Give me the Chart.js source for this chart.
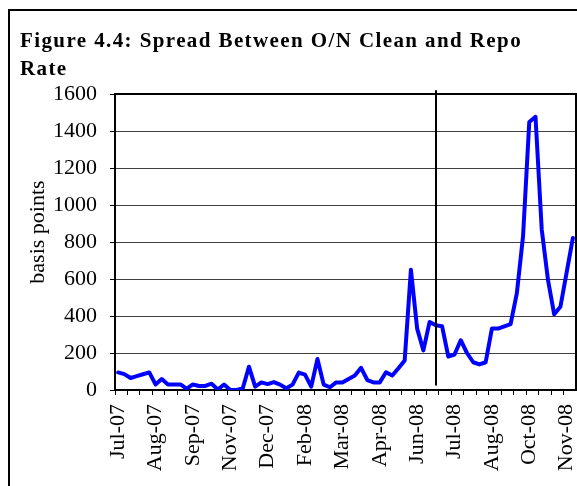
<!DOCTYPE html>
<html><head><meta charset="utf-8">
<script src="https://cdn.jsdelivr.net/npm/chart.js@4/dist/chart.umd.min.js"></script>
<style>
html,body{margin:0;padding:0;background:#fff;overflow:hidden;}
#wrap{position:relative;width:577px;height:486px;}
#frame{position:absolute;left:8px;top:9px;width:600px;height:500px;border:2px solid #000;box-sizing:border-box;pointer-events:none;}
#title{position:absolute;left:20px;top:26px;font:bold 21px "Liberation Serif","Times New Roman",serif;letter-spacing:1.4px;line-height:28px;color:#000;white-space:nowrap;}
canvas{position:absolute;left:0;top:0;}
</style></head><body>
<div id="wrap">
<canvas id="c" width="577" height="486"></canvas>
<div id="frame"></div>
<div id="title">Figure 4.4: Spread Between O/N Clean and Repo<br>Rate</div>
</div>
<script>
// tick labels shown every 6 observations
const tickLabels = ['Jul-07','Aug-07','Sep-07','Nov-07','Dec-07','Feb-08','Mar-08','Apr-08','Jun-08','Jul-08','Aug-08','Oct-08','Nov-08'];
const labelEvery = 6;
// spread between O/N clean and repo rate, basis points (74 observations)
const spreadBp = [
  95, 86, 65, 75, 85, 95, 30, 59, 30, 30,
  30, 7, 30, 22, 22, 34, 3, 30, 0, 0,
  8, 126, 18, 41, 32, 43, 29, 9, 29, 94,
  83, 18, 168, 29, 15, 41, 41, 60, 78, 120,
  54, 41, 41, 96, 78, 118, 160, 650, 332, 214,
  368, 350, 345, 181, 192, 269, 200, 150, 138, 150,
  332, 332, 344, 356, 522, 831, 1449, 1477, 868, 596,
  409, 450, 636, 822
];
const yAxisTitle = 'basis points';
// vertical marker line (observation index, from/to values)
const markerIndex = 51;
const markerFrom = 25;
const markerTo = 1620;

const categories = spreadBp.map((v, i) => (i % labelEvery === 0 ? (tickLabels[i / labelEvery] || '') : ''));
const serif = 'Liberation Serif, Times New Roman, serif';

const plotFrame = {
  id: 'plotFrame',
  beforeDatasetsDraw(chart) {
    const {ctx, chartArea: a} = chart;
    ctx.save();
    ctx.strokeStyle = '#000';
    ctx.lineWidth = 2;
    ctx.beginPath();
    ctx.moveTo(a.left, a.top);
    ctx.lineTo(a.right, a.top);
    ctx.lineTo(a.right, a.bottom);
    ctx.stroke();
    ctx.restore();
  },
  afterDatasetsDraw(chart) {
    const {ctx, chartArea: a, scales: {x, y}} = chart;
    const px = Math.round(x.getPixelForValue(markerIndex));
    ctx.save();
    ctx.strokeStyle = '#000';
    ctx.lineWidth = 2;
    ctx.beginPath();
    ctx.moveTo(px, y.getPixelForValue(markerTo));
    ctx.lineTo(px, y.getPixelForValue(markerFrom));
    ctx.stroke();
    // y axis title
    ctx.translate(38, (a.top + a.bottom) / 2 - 10);
    ctx.rotate(-Math.PI / 2);
    ctx.fillStyle = '#000';
    ctx.font = '22px ' + serif;
    ctx.textAlign = 'center';
    ctx.textBaseline = 'middle';
    ctx.fillText(yAxisTitle, 0, 0);
    ctx.restore();
  }
};

new Chart(document.getElementById('c'), {
  type: 'line',
  data: {
    labels: categories,
    datasets: [{
      data: spreadBp,
      borderColor: '#0000FF',
      borderWidth: 4,
      pointRadius: 0,
      tension: 0,
      fill: false,
      borderJoinStyle: 'round',
      borderCapStyle: 'round'
    }]
  },
  options: {
    responsive: false,
    animation: false,
    devicePixelRatio: 1,
    layout: {padding: {top: 94, right: 1, left: 0, bottom: 0}},
    plugins: {legend: {display: false}, title: {display: false}, tooltip: {enabled: false}},
    scales: {
      x: {
        type: 'category',
        offset: true,
        grid: {
          display: true,
          drawOnChartArea: false,
          drawTicks: true,
          tickLength: 5,
          offset: true,
          tickWidth: 1,
          tickColor: (c) => (c.index % 2 === 0 ? '#000' : 'rgba(0,0,0,0)')
        },
        border: {display: true, color: '#000', width: 2},
        ticks: {
          autoSkip: false,
          minRotation: 90,
          maxRotation: 90,
          padding: 9,
          color: '#000',
          font: {family: serif, size: 22}
        },
        afterFit(s) { s.height = 96; s.paddingLeft = 0; s.paddingRight = 0; }
      },
      y: {
        min: 0,
        max: 1600,
        ticks: {stepSize: 200, padding: 13, color: '#000', font: {family: serif, size: 22},
          callback: (v) => String(v)},
        grid: {color: '#404040', lineWidth: 1, tickLength: 5, tickColor: '#000', tickWidth: 1},
        border: {display: true, color: '#000', width: 2},
        title: {display: false},
        afterFit(s) { s.width = 115; s.paddingTop = 0; s.paddingBottom = 0; }
      }
    }
  },
  plugins: [plotFrame]
});
</script>
</body></html>
